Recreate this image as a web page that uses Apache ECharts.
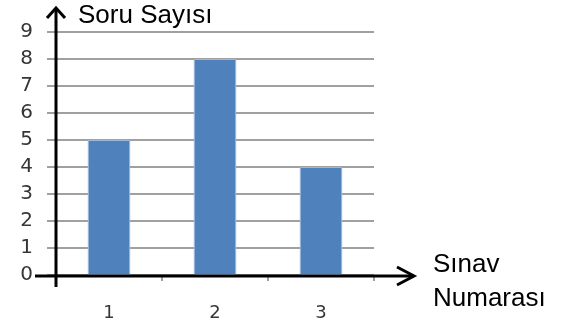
<!DOCTYPE html>
<html>
<head>
<meta charset="utf-8">
<script src="https://cdn.jsdelivr.net/npm/echarts@6/dist/echarts.min.js"></script>
<style>html,body{margin:0;padding:0;background:#fff}#c{width:565px;height:326px}</style>
</head>
<body>
<div id="c"></div>
<script>
var categories = ['1', '2', '3'];
var questionCounts = [5, 8, 4];
var yTicks = [0, 1, 2, 3, 4, 5, 6, 7, 8, 9];
var yTitle = 'Soru Sayısı';
var xTitle = 'Sınav\nNumarası';

var labelFont = '"DejaVu Sans", Verdana, sans-serif';
var chart = echarts.init(document.getElementById('c'), null, {renderer: 'canvas'});
var axisStroke = {stroke: '#000', lineWidth: 3, lineCap: 'butt', lineJoin: 'miter'};
chart.setOption({
  animation: false,
  textStyle: {fontFamily: labelFont},
  grid: {left: 56, right: 191, top: 32, bottom: 51},
  xAxis: {
    type: 'category',
    data: categories,
    axisLine: {show: false},
    axisTick: {show: true, length: 6, lineStyle: {color: '#A0A0A0', width: 2}},
    axisLabel: {margin: 29, fontFamily: labelFont, fontSize: 18, color: '#363636'}
  },
  yAxis: {
    type: 'value',
    min: yTicks[0],
    max: yTicks[yTicks.length - 1],
    interval: 1,
    axisLine: {show: false},
    axisTick: {show: true, length: 9, lineStyle: {color: '#A0A0A0', width: 2}},
    splitLine: {show: true, lineStyle: {color: '#A0A0A0', width: 2}},
    axisLabel: {margin: 23, fontFamily: labelFont, fontSize: 20, color: '#363636'}
  },
  series: [{
    type: 'bar',
    data: questionCounts,
    barWidth: '40%',
    itemStyle: {color: '#4F81BD', borderColor: '#9DB8DC', borderWidth: 1}
  }],
  graphic: [
    {type: 'polyline', shape: {points: [[35, 276], [414, 276]]}, style: axisStroke, z: 100},
    {type: 'polyline', shape: {points: [[397, 267], [414, 276], [397, 285]]}, style: axisStroke, z: 100},
    {type: 'polyline', shape: {points: [[56, 287], [56, 8]]}, style: axisStroke, z: 100},
    {type: 'polyline', shape: {points: [[47, 18], [56, 8], [65, 18]]}, style: axisStroke, z: 100},
    {type: 'text', left: 78, top: 3, style: {text: yTitle, font: '26px "Liberation Sans", Arial, sans-serif', fill: '#000'}, z: 100},
    {type: 'text', left: 433, top: 248, style: {text: xTitle, font: '26px "Liberation Sans", Arial, sans-serif', fill: '#000', lineHeight: 34}, z: 100}
  ]
});
</script>
</body>
</html>
